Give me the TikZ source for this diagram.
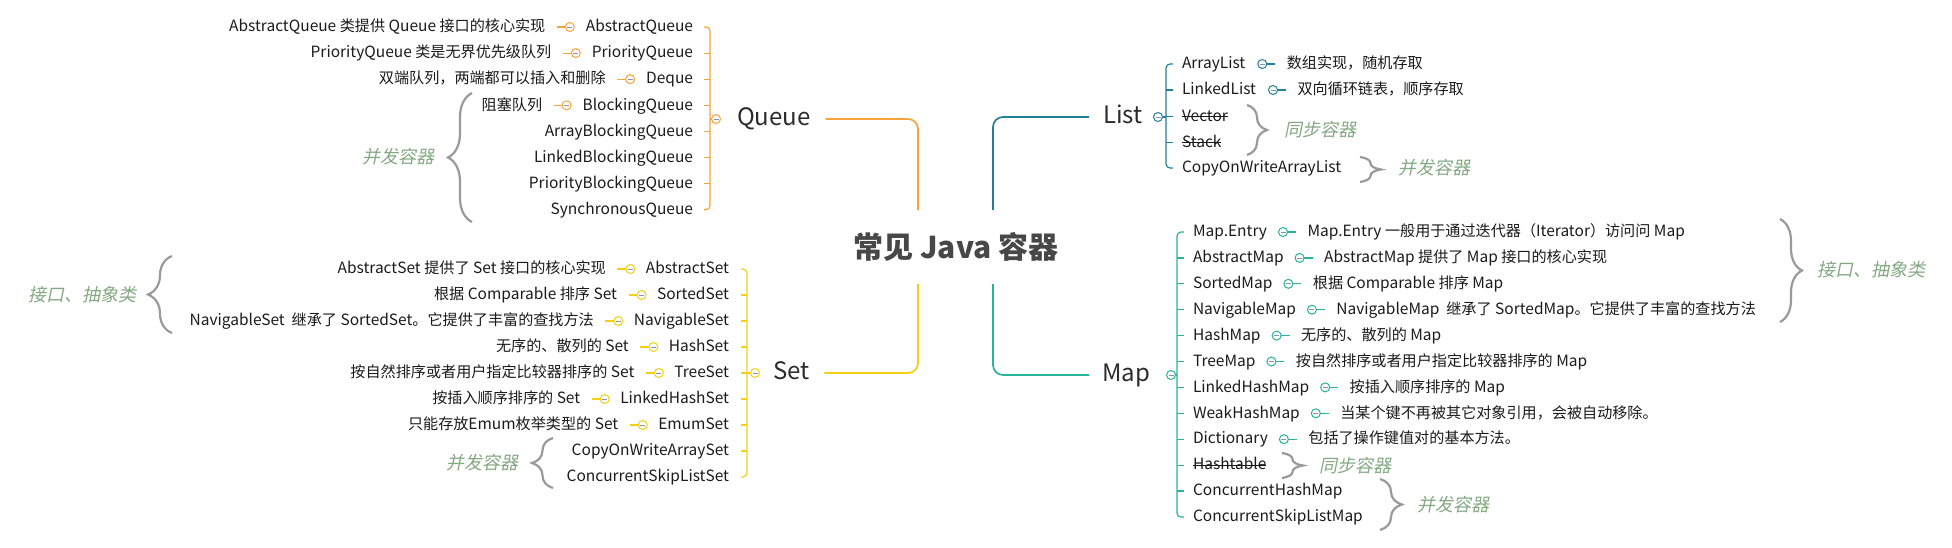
\documentclass[tikz,border=0pt]{standalone}
\usepackage{fontspec}
\setmainfont{Noto Sans CJK SC}
\newfontfamily\slantfont[FakeSlant=0.2]{Noto Sans CJK SC}
\newfontfamily\cjkf[Scale=0.975]{Noto Sans CJK SC}
\XeTeXinterchartokenstate=1
\newXeTeXintercharclass\CJKcls
\newcount\cjkcnt
\cjkcnt="4E00
\loop \XeTeXcharclass\cjkcnt=\CJKcls \ifnum\cjkcnt<"9FFF \advance\cjkcnt by 1 \repeat
\cjkcnt="3000
\loop \XeTeXcharclass\cjkcnt=\CJKcls \ifnum\cjkcnt<"303F \advance\cjkcnt by 1 \repeat
\cjkcnt="FF00
\loop \XeTeXcharclass\cjkcnt=\CJKcls \ifnum\cjkcnt<"FFEF \advance\cjkcnt by 1 \repeat
\def\cjkswitch{\cjkf}
\def\latswitch{\rmfamily}
\XeTeXinterchartoks 0 \CJKcls = {\cjkswitch}
\XeTeXinterchartoks 4095 \CJKcls = {\cjkswitch}
\XeTeXinterchartoks \CJKcls 0 = {\latswitch}
\XeTeXinterchartoks \CJKcls 4095 = {\latswitch}
\usetikzlibrary{positioning,decorations.pathreplacing,calc}
\definecolor{qcol}{HTML}{F9A33C}
\definecolor{scol}{HTML}{F5CF12}
\definecolor{lcol}{HTML}{22809A}
\definecolor{mcol}{HTML}{27B39C}
\definecolor{minusc}{HTML}{8B8FB5}
\definecolor{bracec}{HTML}{9A9A9A}
\definecolor{notec}{HTML}{84A982}
\definecolor{txtc}{HTML}{1A1A1A}
\definecolor{brtxt}{HTML}{2B2B2B}
\definecolor{titlec}{HTML}{474747}
\begin{document}
\begin{tikzpicture}[x=1pt,y=-1pt,
  every node/.style={inner sep=0pt, outer sep=0pt},
  chld/.style={font=\fontsize{15.5}{18}\selectfont, text=txtc, text height=13pt, text depth=3.5pt},
  desc/.style={chld, inner xsep=11.5pt},
  branch/.style={font=\fontsize{24}{28}\selectfont, text=brtxt, text height=18pt, text depth=5pt},
  title/.style={font=\let\cjkswitch\relax\let\latswitch\relax\bfseries\fontsize{30}{34}\selectfont, text=titlec, minimum height=74pt},
  bnote/.style={font=\let\cjkswitch\relax\let\latswitch\relax\slantfont\fontsize{18}{20}\selectfont, text=notec},
  knob/.style={circle, draw=#1, fill=white, line width=1pt, minimum size=9pt,
    path picture={\draw[minusc, line width=0.8pt] ([xshift=2pt]path picture bounding box.west) -- ([xshift=-2pt]path picture bounding box.east);}},
  brc/.style={decorate, decoration={brace, amplitude=#1}, draw=bracec, line width=2.2pt},
  thin/.style={draw=#1, line width=1.2pt},
  main/.style={draw=#1, line width=1.7pt, rounded corners=10pt},
  strike/.style={draw=txtc, line width=0.9pt}
]
\useasboundingbox (0,0) rectangle (1952,547);

% ---------- root ----------
\node[title] (root) at (956,247) {常见 Java 容器};

% ---------- Queue ----------
\node[branch, anchor=west] (queue) at (737,119) {Queue};
\coordinate (qv) at (710,119);
\node[chld, anchor=east] (q1) at (693,27) {AbstractQueue};
\node[chld, anchor=east] (q2) at (693,53.1) {PriorityQueue};
\node[chld, anchor=east] (q3) at (693,79.2) {Deque};
\node[chld, anchor=east] (q4) at (693,105.3) {BlockingQueue};
\node[chld, anchor=east] (q5) at (693,131.4) {ArrayBlockingQueue};
\node[chld, anchor=east] (q6) at (693,157.5) {LinkedBlockingQueue};
\node[chld, anchor=east] (q7) at (693,183.6) {PriorityBlockingQueue};
\node[chld, anchor=east] (q8) at (693,209.7) {SynchronousQueue};
\draw[thin=qcol, rounded corners=4pt] ($(q1.east -| qv)+(-6,0)$) -- (q1.east -| qv) -- (q8.east -| qv) -- ($(q8.east -| qv)+(-6,0)$);
\foreach \n in {q2,q3,q4,q5,q6,q7} \draw[thin=qcol] ($(\n.east -| qv)+(-6,0)$) -- (\n.east -| qv);
\draw[thin=qcol] (qv) -- (716,119);
\node[knob=qcol] (qk) at (716,119) {};
\draw[main=qcol] ([xshift=15pt]queue.east) -| ([xshift=-38pt]root.north);

\node[knob=qcol, left=11.5pt of q1] (q1k) {};
\node[desc, anchor=east, left=8.5pt of q1k] (q1d) {AbstractQueue 类提供 Queue 接口的核心实现};
\node[knob=qcol, left=11.5pt of q2] (q2k) {};
\node[desc, anchor=east, left=8.5pt of q2k] (q2d) {PriorityQueue 类是无界优先级队列};
\node[knob=qcol, left=11.5pt of q3] (q3k) {};
\node[desc, anchor=east, left=8.5pt of q3k] (q3d) {双端队列，两端都可以插入和删除};
\node[knob=qcol, left=11.5pt of q4] (q4k) {};
\node[desc, anchor=east, left=8.5pt of q4k] (q4d) {阻塞队列};
\foreach \n in {q1,q2,q3,q4} \draw[thin=qcol] (\n k.west) -- (\n d.east);

\coordinate (qb1) at (472,222);
\coordinate (qb2) at (472,93);
\draw[brc=24pt] (qb1) -- (qb2);
\node[bnote, anchor=east] (qbn) at (434,157) {并发容器};

% ---------- Set ----------
\node[branch, anchor=west] (set) at (773,373) {Set};
\coordinate (sv) at (747,373);
\node[chld, anchor=east] (s1) at (729,269) {AbstractSet};
\node[chld, anchor=east] (s2) at (729,295) {SortedSet};
\node[chld, anchor=east] (s3) at (729,321) {NavigableSet};
\node[chld, anchor=east] (s4) at (729,347) {HashSet};
\node[chld, anchor=east] (s5) at (729,373) {TreeSet};
\node[chld, anchor=east] (s6) at (729,399) {LinkedHashSet};
\node[chld, anchor=east] (s7) at (729,425) {EmumSet};
\node[chld, anchor=east] (s8) at (729,451) {CopyOnWriteArraySet};
\node[chld, anchor=east] (s9) at (729,477) {ConcurrentSkipListSet};
\draw[thin=scol, rounded corners=4pt] ($(s1.east -| sv)+(-6,0)$) -- (s1.east -| sv) -- (s9.east -| sv) -- ($(s9.east -| sv)+(-6,0)$);
\foreach \n in {s2,s3,s4,s5,s6,s7,s8} \draw[thin=scol] ($(\n.east -| sv)+(-6,0)$) -- (\n.east -| sv);
\draw[thin=scol] (sv) -- (755,373);
\node[knob=scol] (sk) at (755,373) {};
\draw[main=scol] ([xshift=15pt]set.east) -| ([xshift=-38pt]root.south);

\node[knob=scol, left=11pt of s1] (s1k) {};
\node[desc, anchor=east, left=8.5pt of s1k] (s1d) {AbstractSet 提供了 Set 接口的核心实现};
\node[knob=scol, left=11pt of s2] (s2k) {};
\node[desc, anchor=east, left=8.5pt of s2k] (s2d) {根据 Comparable 排序 Set};
\node[knob=scol, left=11pt of s3] (s3k) {};
\node[desc, anchor=east, left=8.5pt of s3k] (s3d) {NavigableSet\ \ 继承了 SortedSet。它提供了丰富的查找方法};
\node[knob=scol, left=11pt of s4] (s4k) {};
\node[desc, anchor=east, left=8.5pt of s4k] (s4d) {无序的、散列的 Set};
\node[knob=scol, left=11pt of s5] (s5k) {};
\node[desc, anchor=east, left=8.5pt of s5k] (s5d) {按自然排序或者用户指定比较器排序的 Set};
\node[knob=scol, left=11pt of s6] (s6k) {};
\node[desc, anchor=east, left=8.5pt of s6k] (s6d) {按插入顺序排序的 Set};
\node[knob=scol, left=11pt of s7] (s7k) {};
\node[desc, anchor=east, left=8.5pt of s7k] (s7d) {只能存放Emum枚举类型的 Set};
\foreach \n in {s1,s2,s3,s4,s5,s6,s7} \draw[thin=scol] (\n k.west) -- (\n d.east);

\coordinate (sb1) at (172,333);
\coordinate (sb2) at (172,256);
\draw[brc=24pt] (sb1) -- (sb2);
\node[bnote, anchor=east] (sbn) at (136,295) {接口、抽象类};
\coordinate (sc1) at (553,488);
\coordinate (sc2) at (553,438);
\draw[brc=21pt] (sc1) -- (sc2);
\node[bnote, anchor=east] (scn) at (518,463) {并发容器};

% ---------- List ----------
\node[branch, anchor=west] (list) at (1103,117) {List};
\coordinate (lv) at (1166,117);
\node[chld, anchor=west] (l1) at (1182,64) {ArrayList};
\node[chld, anchor=west] (l2) at (1182,90) {LinkedList};
\node[chld, anchor=west] (l3) at (1182,116.5) {Vector};
\node[chld, anchor=west] (l4) at (1182,142.5) {Stack};
\node[chld, anchor=west] (l5) at (1182,168) {CopyOnWriteArrayList};
\draw[strike] (l3.west) -- (l3.east);
\draw[strike] (l4.west) -- (l4.east);
\draw[thin=lcol, rounded corners=4pt] ($(l1.west -| lv)+(7,0)$) -- (l1.west -| lv) -- (l5.west -| lv) -- ($(l5.west -| lv)+(7,0)$);
\foreach \n in {l2,l3,l4} \draw[thin=lcol] ($(\n.west -| lv)+(7,0)$) -- (\n.west -| lv);
\draw[thin=lcol] (lv) -- (1158,117);
\node[knob=lcol] (lk) at (1158,117) {};
\draw[main=lcol] ([xshift=-14pt]list.west) -| ([xshift=37pt]root.north);

\node[knob=lcol, right=12.5pt of l1] (l1k) {};
\node[desc, anchor=west, right=8.5pt of l1k] (l1d) {数组实现，随机存取};
\node[knob=lcol, right=12.5pt of l2] (l2k) {};
\node[desc, anchor=west, right=8.5pt of l2k] (l2d) {双向循环链表，顺序存取};
\foreach \n in {l1,l2} \draw[thin=lcol] (\n k.east) -- (\n d.west);

\coordinate (lb1) at (1247,105);
\coordinate (lb2) at (1247,155);
\draw[brc=20pt] (lb1) -- (lb2);
\node[bnote, anchor=west] (lbn) at (1284,130) {同步容器};
\coordinate (lc1) at (1360,157);
\coordinate (lc2) at (1360,182);
\draw[brc=21pt] (lc1) -- (lc2);
\node[bnote, anchor=west] (lcn) at (1398,168) {并发容器};

% ---------- Map ----------
\node[branch, anchor=west] (map) at (1102,375) {Map};
\coordinate (mv) at (1177,375);
\node[chld, anchor=west] (m1) at (1193,232) {Map.Entry};
\node[chld, anchor=west] (m2) at (1193,257.9) {AbstractMap};
\node[chld, anchor=west] (m3) at (1193,283.8) {SortedMap};
\node[chld, anchor=west] (m4) at (1193,309.7) {NavigableMap};
\node[chld, anchor=west] (m5) at (1193,335.6) {HashMap};
\node[chld, anchor=west] (m6) at (1193,361.5) {TreeMap};
\node[chld, anchor=west] (m7) at (1193,387.4) {LinkedHashMap};
\node[chld, anchor=west] (m8) at (1193,413.3) {WeakHashMap};
\node[chld, anchor=west] (m9) at (1193,439.2) {Dictionary};
\node[chld, anchor=west] (m10) at (1193,465.1) {Hashtable};
\node[chld, anchor=west] (m11) at (1193,491) {ConcurrentHashMap};
\node[chld, anchor=west] (m12) at (1193,517) {ConcurrentSkipListMap};
\draw[strike] (m10.west) -- (m10.east);
\draw[thin=mcol, rounded corners=4pt] ($(m1.west -| mv)+(7,0)$) -- (m1.west -| mv) -- (m12.west -| mv) -- ($(m12.west -| mv)+(7,0)$);
\foreach \n in {m2,m3,m4,m5,m6,m7,m8,m9,m10,m11} \draw[thin=mcol] ($(\n.west -| mv)+(7,0)$) -- (\n.west -| mv);
\draw[thin=mcol] (mv) -- (1171,375);
\node[knob=mcol] (mk) at (1171,375) {};
\draw[main=mcol] ([xshift=-13pt]map.west) -| ([xshift=37pt]root.south);

\node[knob=mcol, right=11.5pt of m1] (m1k) {};
\node[desc, anchor=west, right=8.5pt of m1k] (m1d) {Map.Entry 一般用于通过迭代器（Iterator）访问问 Map};
\node[knob=mcol, right=11.5pt of m2] (m2k) {};
\node[desc, anchor=west, right=8.5pt of m2k] (m2d) {AbstractMap 提供了 Map 接口的核心实现};
\node[knob=mcol, right=11.5pt of m3] (m3k) {};
\node[desc, anchor=west, right=8.5pt of m3k] (m3d) {根据 Comparable 排序 Map};
\node[knob=mcol, right=11.5pt of m4] (m4k) {};
\node[desc, anchor=west, right=8.5pt of m4k] (m4d) {NavigableMap\ \ 继承了 SortedMap。它提供了丰富的查找方法};
\node[knob=mcol, right=11.5pt of m5] (m5k) {};
\node[desc, anchor=west, right=8.5pt of m5k] (m5d) {无序的、散列的 Map};
\node[knob=mcol, right=11.5pt of m6] (m6k) {};
\node[desc, anchor=west, right=8.5pt of m6k] (m6d) {按自然排序或者用户指定比较器排序的 Map};
\node[knob=mcol, right=11.5pt of m7] (m7k) {};
\node[desc, anchor=west, right=8.5pt of m7k] (m7d) {按插入顺序排序的 Map};
\node[knob=mcol, right=11.5pt of m8] (m8k) {};
\node[desc, anchor=west, right=8.5pt of m8k] (m8d) {当某个键不再被其它对象引用，会被自动移除。};
\node[knob=mcol, right=11.5pt of m9] (m9k) {};
\node[desc, anchor=west, right=8.5pt of m9k] (m9d) {包括了操作键值对的基本方法。};
\foreach \n in {m1,m2,m3,m4,m5,m6,m7,m8,m9} \draw[thin=mcol] (\n k.east) -- (\n d.west);

\coordinate (mb1) at (1780,219);
\coordinate (mb2) at (1780,322);
\draw[brc=22pt] (mb1) -- (mb2);
\node[bnote, anchor=west] (mbn) at (1817,270) {接口、抽象类};
\coordinate (ms1) at (1282,453);
\coordinate (ms2) at (1282,478);
\draw[brc=21pt] (ms1) -- (ms2);
\node[bnote, anchor=west] (msn) at (1319,466) {同步容器};
\coordinate (mc1) at (1380,479);
\coordinate (mc2) at (1380,530);
\draw[brc=22pt] (mc1) -- (mc2);
\node[bnote, anchor=west] (mcn) at (1417,505) {并发容器};
\end{tikzpicture}
\end{document}
